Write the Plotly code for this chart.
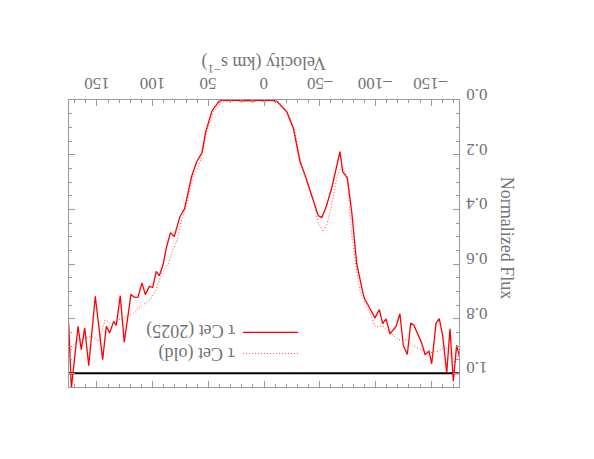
import plotly.graph_objects as go

# Velocity (km/s) and normalized flux, tau Cet (2025)
vel_new = [175.3, 172.9, 166.9, 164.0, 160.9, 157.3, 151.4, 144.8, 141.5, 138.5, 134.9, 132.6,
           129.0, 125.4, 119.4, 116.0, 113.1, 109.5, 106.5, 102.9, 99.9, 96.7, 94.0, 90.6,
           87.7, 83.9, 80.6, 75.4, 71.3, 64.9, 60.4, 55.6, 52.5, 46.7, 40.4, 36.8,
           30.0, 25.0, 20.0, 15.0, 10.0, 5.0, 0.0, -5.0, -11.4,
           -20.4, -26.3, -32.3, -36.8, -42.8, -48.7, -51.8, -55.4, -60.8, -68.2, -70.6,
           -74.8, -78.7, -83.2, -89.1, -90.6, -93.6, -99.6, -103.5, -106.5, -109.5, -113.1,
           -118.5, -122.0, -125.0, -128.6, -131.7, -134.6, -141.5, -144.5, -148.1, -150.5,
           -154.4, -157.3, -160.4, -164.0, -166.9, -169.9, -172.9, -175.3]
flux_new = [0.816, 1.055, 0.828, 0.913, 0.834, 0.972, 0.718, 0.950, 0.828, 0.852, 0.810, 0.825,
            0.716, 0.886, 0.712, 0.722, 0.721, 0.669, 0.712, 0.682, 0.686, 0.627, 0.643, 0.603,
            0.542, 0.485, 0.500, 0.426, 0.398, 0.279, 0.226, 0.192, 0.119, 0.040, 0.005, 0.000,
            0.002, 0.000, 0.004, 0.001, 0.004, 0.000, 0.003, 0.000, 0.004,
            0.043, 0.103, 0.225, 0.274, 0.347, 0.423, 0.430, 0.396, 0.322, 0.189, 0.262,
            0.286, 0.408, 0.599, 0.712, 0.730, 0.752, 0.797, 0.767, 0.818, 0.801, 0.856,
            0.828, 0.782, 0.898, 0.931, 0.816, 0.825, 0.889, 0.931, 0.919, 0.965,
            0.816, 0.800, 0.864, 0.998, 0.837, 1.029, 0.897, 0.938]

# Velocity (km/s) and normalized flux, tau Cet (old)
vel_old = [174.7, 170.8, 166.3, 160.4, 154.4, 148.3, 142.4, 136.4, 130.4, 123.0, 118.5, 112.4,
           108.0, 102.0, 97.5, 91.5, 85.5, 82.6, 78.3, 73.9, 69.4, 63.4, 59.0, 55.9, 51.4,
           45.5, 38.0, 30.0, 22.0, 15.0, 8.0, 0.0, -7.0, -14.4,
           -21.8, -27.8, -33.8, -38.3, -44.2, -48.7, -53.2, -56.3, -60.8, -65.8, -69.7,
           -74.8, -78.7, -83.2, -86.2, -89.1, -95.1, -99.6, -107.1, -113.1, -120.5, -128.1,
           -134.0, -141.5, -149.0, -156.4, -162.4, -166.9, -171.4, -175.3]
flux_old = [0.925, 0.895, 0.877, 0.870, 0.864, 0.883, 0.804, 0.822, 0.804, 0.791, 0.785, 0.761,
            0.749, 0.730, 0.700, 0.633, 0.596, 0.554, 0.518, 0.438, 0.383, 0.280, 0.244, 0.207, 0.116,
            0.043, 0.006, 0.003, 0.002, 0.004, 0.002, 0.003, 0.003, 0.012,
            0.049, 0.116, 0.244, 0.298, 0.371, 0.450, 0.481, 0.457, 0.383, 0.274, 0.244,
            0.280, 0.493, 0.627, 0.700, 0.730, 0.779, 0.828, 0.828, 0.852, 0.877, 0.877,
            0.901, 0.913, 0.925, 0.919, 0.901, 0.925, 0.962, 0.925]

continuum_vel = [-175, 175]
continuum_flux = [1.0, 1.0]

x_ticks = [-150, -100, -50, 0, 50, 100, 150]
x_tick_labels = ["\u2013150", "\u2013100", "\u201350", "0", "50", "100", "150"]
y_ticks = [0.0, 0.2, 0.4, 0.6, 0.8, 1.0]
y_tick_labels = ["0.0", "0.2", "0.4", "0.6", "0.8", "1.0"]

FONT = "Liberation Serif, Times New Roman, serif"
GREY = "#737373"
AXC = "#9a9a9a"

fig = go.Figure()
fig.add_trace(go.Scatter(x=continuum_vel, y=continuum_flux, mode="lines",
                         line=dict(color="black", width=2), showlegend=False))
fig.add_trace(go.Scatter(x=vel_old, y=flux_old, mode="lines",
                         line=dict(color="#ff4a4a", width=1, dash="1px,2px"), showlegend=False))
fig.add_trace(go.Scatter(x=vel_new, y=flux_new, mode="lines",
                         line=dict(color="#ff0000", width=1.3), showlegend=False))

tick_font = dict(family=FONT, size=17, color=GREY)
axis_common = dict(showline=True, linecolor=AXC, linewidth=1, mirror="ticks",
                   ticks="inside", tickcolor=AXC, ticklen=6, showgrid=False, zeroline=False,
                   automargin=False, tickangle=180, tickfont=tick_font)

fig.update_xaxes(range=[175, -175], side="top", tickvals=x_ticks, showticklabels=False,
                 minor=dict(dtick=10, tick0=0, ticks="inside", ticklen=3, tickcolor=AXC),
                 **axis_common)
fig.update_yaxes(range=[1.05, 0], side="right", tickvals=y_ticks,
                 ticktext=y_tick_labels, ticklabelstandoff=24,
                 minor=dict(dtick=0.05, tick0=0, ticks="inside", ticklen=3, tickcolor=AXC),
                 **axis_common)

# Upside-down x tick labels, centred on their ticks
for v, lab in zip(x_ticks, x_tick_labels):
    fig.add_annotation(text=lab, xref="x", yref="paper", x=v, y=1.055, showarrow=False,
                       textangle=180, font=tick_font, xanchor="center", yanchor="middle",
                       borderpad=0)

ann_font = dict(family=FONT, size=18, color=GREY)
fig.add_annotation(text="Velocity (km s<sup>\u22121</sup>)", xref="paper", yref="paper",
                   x=0.5, y=1.126, showarrow=False, textangle=180, font=ann_font,
                   xanchor="center", yanchor="middle", borderpad=0)
fig.add_annotation(text="Normalized Flux", xref="paper", yref="paper",
                   x=1.123, y=0.52, showarrow=False, textangle=90, font=ann_font,
                   xanchor="center", yanchor="middle")

# Legend (drawn rotated like the rest of the figure)
fig.add_shape(type="line", xref="paper", yref="paper", x0=0.446, x1=0.587, y0=0.19, y1=0.19,
              line=dict(color="#ff0000", width=1.3))
fig.add_shape(type="line", xref="paper", yref="paper", x0=0.446, x1=0.587, y0=0.117, y1=0.117,
              line=dict(color="#ff4a4a", width=1, dash="1px,2px"))
fig.add_annotation(text="\u03c4 Cet (2025)", xref="paper", yref="paper", x=0.312, y=0.197,
                   showarrow=False, textangle=180, font=ann_font, xanchor="center", yanchor="middle")
fig.add_annotation(text="\u03c4 Cet (old)", xref="paper", yref="paper", x=0.328, y=0.117,
                   showarrow=False, textangle=180, font=ann_font, xanchor="center", yanchor="middle")

# The page body adds an 8px offset, so the figure is 8px smaller and margins shifted.
fig.update_layout(width=586, height=451, margin=dict(l=61, r=135, t=92, b=72),
                  paper_bgcolor="white", plot_bgcolor="white", showlegend=False)

fig.write_html("out.html")
